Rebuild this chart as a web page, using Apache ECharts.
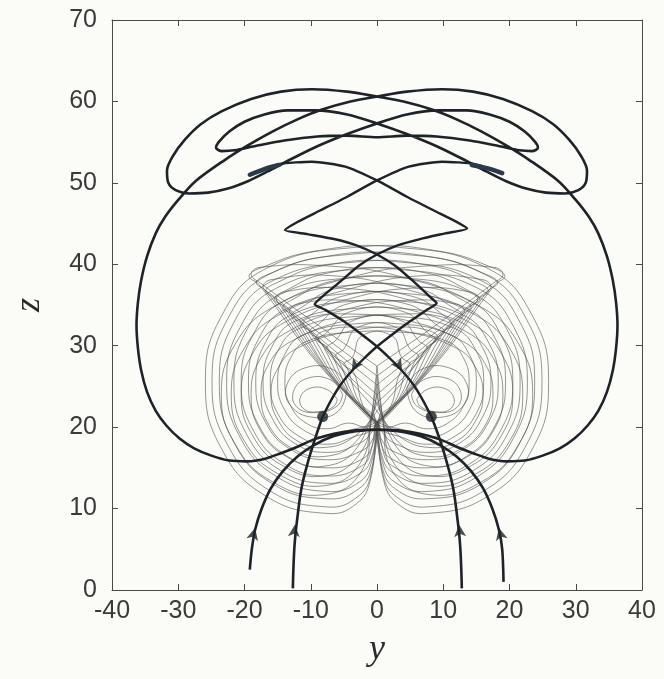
<!DOCTYPE html>
<html>
<head>
<meta charset="utf-8">
<script src="https://cdn.jsdelivr.net/npm/echarts@6/dist/echarts.min.js"></script>
<style>
  html, body { margin: 0; padding: 0; background: #fbfbf7; }
  #chart { width: 664px; height: 679px; }
</style>
</head>
<body>
<div id="chart"></div>
<script>
// Axis ticks
const yTicks = [-40, -30, -20, -10, 0, 10, 20, 30, 40];
const zTicks = [0, 10, 20, 30, 40, 50, 60, 70];

// Equilibria (filled dots)
const equilibria = [[-8.2, 21.3], [8.2, 21.3]];

// Long heavy trajectory: rises from the lower left, sweeps the big outer loop,
// winds through the upper lobes and returns down to the lower right
const heavyOrbit = [
  [-19.2, 2.5], [-18.9, 5.0], [-18.4, 7.4], [-17.4, 10.0], [-16.0, 12.5], [-14.2, 14.6],
  [-12.0, 16.4], [-9.5, 17.8], [-6.5, 18.9], [-3.2, 19.5], [0.0, 19.7], [3.2, 19.6],
  [6.5, 19.2], [9.5, 18.5], [12.0, 17.6], [14.5, 16.8], [17.0, 16.1], [19.6, 15.8],
  [22.3, 15.9], [25.0, 16.5], [27.6, 17.4], [29.8, 18.6], [31.8, 20.2], [33.4, 22.0],
  [34.7, 24.3], [35.6, 27.0], [36.1, 29.8], [36.3, 32.5], [36.1, 35.2], [35.6, 38.0],
  [34.7, 41.0], [33.4, 43.8], [32.0, 45.8], [30.0, 47.9], [27.4, 50.2], [23.0, 52.8],
  [19.5, 54.6], [15.8, 56.3], [12.0, 57.8], [8.3, 59.0], [4.0, 60.0], [0.0, 60.6],
  [-4.5, 61.2], [-9.8, 61.5], [-14.5, 61.2], [-19.0, 60.3], [-23.4, 58.8], [-26.6, 57.2],
  [-29.0, 55.3], [-30.8, 53.3], [-31.7, 51.5], [-31.5, 50.0], [-30.4, 49.1], [-28.4, 48.7],
  [-25.5, 48.8], [-22.5, 49.3], [-19.5, 50.2], [-16.5, 51.4], [-13.0, 52.9], [-9.0, 54.5],
  [-4.5, 56.0], [0.0, 57.3], [4.5, 58.4], [9.3, 58.9], [13.5, 58.9], [17.0, 58.4],
  [20.0, 57.5], [22.3, 56.3], [23.9, 55.0], [24.3, 54.3], [23.4, 53.9], [21.5, 54.0],
  [18.5, 54.5], [14.0, 55.2], [9.0, 55.7], [4.5, 55.8], [0.0, 55.6], [-4.5, 55.8],
  [-9.0, 55.7], [-14.0, 55.2], [-18.5, 54.5], [-21.5, 54.0], [-23.4, 53.9], [-24.3, 54.3],
  [-23.9, 55.0], [-22.3, 56.3], [-20.0, 57.5], [-17.0, 58.4], [-13.5, 58.9], [-9.3, 58.9],
  [-4.5, 58.4], [0.0, 57.3], [4.5, 56.0], [9.0, 54.5], [13.0, 52.9], [16.5, 51.4],
  [19.5, 50.2], [22.5, 49.3], [25.5, 48.8], [28.4, 48.7], [30.4, 49.1], [31.5, 50.0],
  [31.7, 51.5], [30.8, 53.3], [29.0, 55.3], [26.6, 57.2], [23.4, 58.8], [19.0, 60.3],
  [14.5, 61.2], [9.8, 61.5], [4.5, 61.2], [0.0, 60.6], [-4.0, 60.0], [-8.3, 59.0],
  [-12.0, 57.8], [-15.8, 56.3], [-19.5, 54.6], [-23.0, 52.8], [-27.4, 50.2], [-30.0, 47.9],
  [-32.0, 45.8], [-33.4, 43.8], [-34.7, 41.0], [-35.6, 38.0], [-36.1, 35.2], [-36.3, 32.5],
  [-36.1, 29.8], [-35.6, 27.0], [-34.7, 24.3], [-33.4, 22.0], [-31.8, 20.2], [-29.8, 18.6],
  [-27.6, 17.4], [-25.0, 16.5], [-22.3, 15.9], [-19.6, 15.8], [-17.0, 16.1], [-14.5, 16.8],
  [-12.0, 17.6], [-9.5, 18.5], [-6.5, 19.2], [-3.2, 19.6], [0.0, 19.7], [3.2, 19.5],
  [6.5, 18.9], [9.5, 17.8], [12.0, 16.4], [14.2, 14.6], [16.0, 12.5], [17.4, 10.0],
  [18.4, 7.4], [18.9, 5.0], [19.1, 1.0]
];

// Zig-zag branches joining each equilibrium to the opposite upper segment
const zigzagLeft = [
  [-8.2, 21.3], [-7.0, 23.2], [-5.5, 25.2], [-3.8, 26.9], [-2.0, 28.4], [0.0, 29.9],
  [2.5, 31.5], [5.0, 33.0], [7.5, 34.4], [9.0, 35.2], [8.0, 36.0], [5.5, 37.9],
  [2.8, 39.8], [0.0, 41.2], [-3.0, 42.3], [-6.5, 43.1], [-10.5, 43.7], [-13.9, 44.2],
  [-12.0, 45.2], [-8.6, 46.6], [-4.5, 48.3], [0.0, 50.3], [4.8, 52.0], [9.8, 52.6],
  [14.8, 52.3], [19.0, 51.1]
];
const zigzagRight = [
  [8.2, 21.3], [7.0, 23.2], [5.5, 25.2], [3.8, 26.9], [2.0, 28.4], [0.0, 29.9],
  [-2.5, 31.5], [-5.0, 33.0], [-7.8, 34.4], [-9.4, 35.1], [-8.3, 36.0], [-5.5, 37.9],
  [-2.8, 39.8], [0.0, 41.2], [3.0, 42.3], [6.5, 43.1], [10.3, 43.8], [13.6, 44.4],
  [11.8, 45.3], [8.6, 46.6], [4.5, 48.3], [0.0, 50.3], [-4.8, 52.0], [-9.8, 52.6],
  [-14.8, 52.3], [-19.2, 51.0]
];

// Short overlapping stretches where two heavy branches run together
const overlapLeft = [[-19.2, 51.0], [-17.0, 51.7], [-14.8, 52.2]];
const overlapRight = [[14.3, 52.2], [16.6, 51.8], [18.9, 51.2]];

// Incoming branches from the bottom edge into each equilibrium
const stemLeft = [
  [-12.7, 0.2], [-12.6, 3.0], [-12.4, 6.0], [-12.0, 9.0], [-11.4, 12.5],
  [-10.5, 15.5], [-9.5, 18.2], [-8.2, 21.3]
];
const stemRight = [
  [12.8, 0.2], [12.7, 3.0], [12.5, 6.0], [12.1, 9.0], [11.5, 12.5],
  [10.6, 15.5], [9.6, 18.2], [8.2, 21.3]
];

// Direction markers: position and heading (degrees, counter-clockwise from up)
const arrowPoints = [[-18.4, 7.6], [-12.4, 8.0], [12.4, 8.0], [18.4, 7.6], [-3.8, 26.9], [3.8, 26.9]];
const arrowHeadings = [-14, -5, 5, 14, 148, -148];

// Thin transient loops round the left equilibrium that dip to the cusp below it
const thinLeft = [
  [[-6.0,23.4],[-7.5,24.6],[-10.0,24.8],[-11.6,23.6],[-11.0,22.2],[-8.8,21.9],[-6.6,22.5],[-6.0,23.4]],
  [[-5.2,24.0],[-7.0,25.8],[-10.5,26.0],[-12.6,24.4],[-12.0,22.4],[-9.0,21.8],[-6.0,22.6],[-5.2,24.0]],
  [[-4.5,24.8],[-6.5,27.0],[-10.8,27.3],[-13.6,25.2],[-13.0,22.6],[-9.5,21.2],[-5.8,22.0],[-4.5,24.8]],
  [[0.0,20.3],[2.1,22.6],[3.5,26.7],[5.0,27.7],[3.7,28.6],[2.3,31.2],[-3.0,31.7],[-10.7,30.5],[-13.1,28.4],[-13.9,25.5],[-13.1,22.7],[-10.7,20.5],[-7.5,19.8],[-4.3,20.5],[-1.8,20.0],[0.0,20.3]],
  [[0.2,20.8],[2.7,23.1],[4.8,27.7],[6.3,28.7],[5.0,29.6],[3.0,32.2],[-3.0,32.7],[-11.2,31.3],[-14.0,28.8],[-15.0,25.5],[-14.0,22.2],[-11.2,19.7],[-7.5,18.8],[-3.8,19.7],[-1.2,20.2],[0.2,20.8]],
  [[-0.2,20.3],[3.3,23.5],[6.1,28.7],[7.6,29.7],[6.3,30.6],[3.6,33.1],[-3.0,33.6],[-11.8,32.1],[-15.0,29.3],[-16.1,25.5],[-15.0,21.7],[-11.8,18.9],[-7.5,17.9],[-3.2,18.9],[-1.0,19.5],[-0.2,20.3]],
  [[0.3,21.2],[3.9,24.0],[7.4,29.7],[8.9,30.7],[7.6,31.6],[4.3,34.1],[-3.0,34.6],[-12.4,33.0],[-15.9,29.8],[-17.2,25.5],[-15.9,21.2],[-12.4,18.0],[-7.5,16.9],[-2.7,18.0],[-0.8,19.4],[0.3,21.2]],
  [[-0.3,20.0],[4.5,24.4],[8.7,30.7],[10.2,31.7],[8.9,32.6],[5.0,35.0],[-3.0,35.5],[-12.9,33.8],[-16.9,30.3],[-18.3,25.5],[-16.9,20.7],[-12.9,17.2],[-7.5,16.0],[-2.3,17.1],[-0.6,18.6],[-0.3,20.0]],
  [[0.1,20.6],[5.1,24.9],[10.1,31.7],[11.6,32.7],[10.3,33.6],[5.6,36.0],[-3.0,36.5],[-13.5,34.6],[-17.9,30.8],[-19.4,25.5],[-17.9,20.3],[-13.5,16.4],[-7.5,15.0],[-2.0,16.2],[-0.5,18.3],[0.1,20.6]],
  [[-0.4,20.3],[5.7,25.3],[11.4,32.7],[12.9,33.7],[11.6,34.6],[6.3,37.0],[-3.0,37.5],[-14.0,35.5],[-18.8,31.2],[-20.5,25.5],[-18.8,19.8],[-14.0,15.5],[-7.5,14.0],[-2.2,15.3],[-0.8,17.4],[-0.4,20.3]],
  [[0.4,21.5],[6.3,25.8],[12.7,33.7],[14.2,34.7],[12.9,35.6],[6.9,37.9],[-3.0,38.4],[-14.6,36.3],[-19.8,31.7],[-21.6,25.5],[-19.8,19.3],[-14.6,14.7],[-7.5,13.1],[-2.4,14.4],[-0.7,16.6],[0.4,21.5]],
  [[-0.1,20.0],[6.8,26.2],[14.0,34.7],[15.5,35.7],[14.2,36.6],[7.6,38.9],[-3.0,39.4],[-15.1,37.1],[-20.7,32.2],[-22.7,25.5],[-20.7,18.8],[-15.1,13.9],[-7.5,12.1],[-2.6,13.3],[-0.8,15.8],[-0.1,20.0]],
  [[0.2,20.9],[7.4,26.7],[15.3,35.7],[16.8,36.7],[15.5,37.6],[8.3,39.8],[-3.0,40.3],[-15.7,38.0],[-21.7,32.7],[-23.8,25.5],[-21.7,18.3],[-15.7,13.0],[-7.5,11.2],[-2.8,12.4],[-0.8,15.0],[0.2,20.9]],
  [[-0.3,20.3],[8.0,27.1],[16.7,36.7],[18.2,37.7],[16.9,38.6],[8.9,40.8],[-3.0,41.3],[-16.2,38.8],[-22.6,33.2],[-24.9,25.5],[-22.6,17.9],[-16.2,12.2],[-7.5,10.2],[-3.0,11.4],[-0.9,14.2],[-0.3,20.3]],
  [[0.0,20.6],[8.6,27.5],[17.8,37.5],[19.3,38.5],[18.0,39.4],[9.5,41.6],[-3.0,42.1],[-16.7,39.5],[-23.5,33.6],[-25.9,25.5],[-23.5,17.4],[-16.7,11.5],[-7.5,9.4],[-3.1,10.6],[-1.0,13.5],[0.0,20.6]]
];

// Thin loops round the left equilibrium that cut across the middle higher up
const hatchLeft = [
  [[0.0,22.0],[4.3,26.0],[7.8,29.9],[9.2,30.9],[8.0,31.8],[3.6,32.3],[-4.0,31.8],[-12.0,29.7],[-14.9,27.3],[-16.0,24.0],[-14.9,20.8],[-12.0,18.3],[-8.0,17.5],[-3.5,18.8],[0.0,22.0]],
  [[0.0,23.0],[5.3,27.2],[9.8,31.6],[11.2,32.6],[10.0,33.5],[4.4,33.9],[-4.0,33.2],[-12.8,30.6],[-16.3,27.8],[-17.5,24.0],[-16.3,20.2],[-12.8,17.4],[-8.0,16.4],[-3.2,18.2],[0.0,23.0]],
  [[0.0,24.0],[6.3,28.6],[11.8,33.2],[13.2,34.2],[12.0,35.1],[5.2,35.6],[-4.0,34.6],[-13.5,31.7],[-17.6,28.4],[-19.0,24.0],[-17.6,19.6],[-13.5,16.3],[-8.0,15.2],[-3.0,17.5],[0.0,24.0]],
  [[0.0,25.2],[7.3,30.0],[13.8,34.7],[15.2,35.7],[14.0,36.6],[6.0,37.1],[-4.0,35.8],[-14.3,32.7],[-18.8,29.0],[-20.5,24.0],[-18.8,19.0],[-14.3,15.3],[-8.0,14.0],[-2.8,16.5],[-0.6,21.5],[0.0,25.2]],
  [[0.0,26.3],[8.3,31.3],[15.8,36.2],[17.2,37.2],[16.0,38.1],[6.8,38.6],[-4.0,37.0],[-15.0,33.7],[-20.1,29.6],[-22.0,24.0],[-20.1,18.4],[-15.0,14.3],[-8.0,12.8],[-2.6,15.5],[-0.8,21.5],[0.0,26.3]],
  [[0.0,27.5],[9.2,32.7],[17.6,37.7],[19.0,38.7],[17.8,39.6],[7.6,39.8],[-4.0,38.4],[-15.8,34.7],[-21.4,30.2],[-23.5,24.0],[-21.4,17.9],[-15.8,13.3],[-8.0,11.7],[-2.4,14.5],[-0.9,21.0],[0.0,27.5]]
];

// Thin transient loops round the right equilibrium that dip to the cusp below it
const thinRight = [
  [[6.0,23.4],[7.5,24.6],[10.0,24.8],[11.6,23.6],[11.0,22.2],[8.8,21.9],[6.6,22.5],[6.0,23.4]],
  [[5.2,24.0],[7.0,25.8],[10.5,26.0],[12.6,24.4],[12.0,22.4],[9.0,21.8],[6.0,22.6],[5.2,24.0]],
  [[4.5,24.8],[6.5,27.0],[10.8,27.3],[13.6,25.2],[13.0,22.6],[9.5,21.2],[5.8,22.0],[4.5,24.8]],
  [[0.0,20.3],[-2.1,22.6],[-3.5,26.7],[-5.0,27.7],[-3.7,28.6],[-2.3,31.2],[3.0,31.7],[10.7,30.5],[13.1,28.4],[13.9,25.5],[13.1,22.7],[10.7,20.5],[7.5,19.8],[4.3,20.5],[1.8,20.0],[0.0,20.3]],
  [[-0.2,20.8],[-2.7,23.1],[-4.8,27.7],[-6.3,28.7],[-5.0,29.6],[-3.0,32.2],[3.0,32.7],[11.2,31.3],[14.0,28.8],[15.0,25.5],[14.0,22.2],[11.2,19.7],[7.5,18.8],[3.8,19.7],[1.2,20.2],[-0.2,20.8]],
  [[0.2,20.3],[-3.3,23.5],[-6.1,28.7],[-7.6,29.7],[-6.3,30.6],[-3.6,33.1],[3.0,33.6],[11.8,32.1],[15.0,29.3],[16.1,25.5],[15.0,21.7],[11.8,18.9],[7.5,17.9],[3.2,18.9],[1.0,19.5],[0.2,20.3]],
  [[-0.3,21.2],[-3.9,24.0],[-7.4,29.7],[-8.9,30.7],[-7.6,31.6],[-4.3,34.1],[3.0,34.6],[12.4,33.0],[15.9,29.8],[17.2,25.5],[15.9,21.2],[12.4,18.0],[7.5,16.9],[2.7,18.0],[0.8,19.4],[-0.3,21.2]],
  [[0.3,20.0],[-4.5,24.4],[-8.7,30.7],[-10.2,31.7],[-8.9,32.6],[-5.0,35.0],[3.0,35.5],[12.9,33.8],[16.9,30.3],[18.3,25.5],[16.9,20.7],[12.9,17.2],[7.5,16.0],[2.3,17.1],[0.6,18.6],[0.3,20.0]],
  [[-0.1,20.6],[-5.1,24.9],[-10.1,31.7],[-11.6,32.7],[-10.3,33.6],[-5.6,36.0],[3.0,36.5],[13.5,34.6],[17.9,30.8],[19.4,25.5],[17.9,20.3],[13.5,16.4],[7.5,15.0],[2.0,16.2],[0.5,18.3],[-0.1,20.6]],
  [[0.4,20.3],[-5.7,25.3],[-11.4,32.7],[-12.9,33.7],[-11.6,34.6],[-6.3,37.0],[3.0,37.5],[14.0,35.5],[18.8,31.2],[20.5,25.5],[18.8,19.8],[14.0,15.5],[7.5,14.0],[2.2,15.3],[0.8,17.4],[0.4,20.3]],
  [[-0.4,21.5],[-6.3,25.8],[-12.7,33.7],[-14.2,34.7],[-12.9,35.6],[-6.9,37.9],[3.0,38.4],[14.6,36.3],[19.8,31.7],[21.6,25.5],[19.8,19.3],[14.6,14.7],[7.5,13.1],[2.4,14.4],[0.7,16.6],[-0.4,21.5]],
  [[0.1,20.0],[-6.8,26.2],[-14.0,34.7],[-15.5,35.7],[-14.2,36.6],[-7.6,38.9],[3.0,39.4],[15.1,37.1],[20.7,32.2],[22.7,25.5],[20.7,18.8],[15.1,13.9],[7.5,12.1],[2.6,13.3],[0.8,15.8],[0.1,20.0]],
  [[-0.2,20.9],[-7.4,26.7],[-15.3,35.7],[-16.8,36.7],[-15.5,37.6],[-8.3,39.8],[3.0,40.3],[15.7,38.0],[21.7,32.7],[23.8,25.5],[21.7,18.3],[15.7,13.0],[7.5,11.2],[2.8,12.4],[0.8,15.0],[-0.2,20.9]],
  [[0.3,20.3],[-8.0,27.1],[-16.7,36.7],[-18.2,37.7],[-16.9,38.6],[-8.9,40.8],[3.0,41.3],[16.2,38.8],[22.6,33.2],[24.9,25.5],[22.6,17.9],[16.2,12.2],[7.5,10.2],[3.0,11.4],[0.9,14.2],[0.3,20.3]],
  [[0.0,20.6],[-8.6,27.5],[-17.8,37.5],[-19.3,38.5],[-18.0,39.4],[-9.5,41.6],[3.0,42.1],[16.7,39.5],[23.5,33.6],[25.9,25.5],[23.5,17.4],[16.7,11.5],[7.5,9.4],[3.1,10.6],[1.0,13.5],[0.0,20.6]]
];

// Thin loops round the right equilibrium that cut across the middle higher up
const hatchRight = [
  [[0.0,22.0],[-4.3,26.0],[-7.8,29.9],[-9.2,30.9],[-8.0,31.8],[-3.6,32.3],[4.0,31.8],[12.0,29.7],[14.9,27.3],[16.0,24.0],[14.9,20.8],[12.0,18.3],[8.0,17.5],[3.5,18.8],[0.0,22.0]],
  [[0.0,23.0],[-5.3,27.2],[-9.8,31.6],[-11.2,32.6],[-10.0,33.5],[-4.4,33.9],[4.0,33.2],[12.8,30.6],[16.3,27.8],[17.5,24.0],[16.3,20.2],[12.8,17.4],[8.0,16.4],[3.2,18.2],[0.0,23.0]],
  [[0.0,24.0],[-6.3,28.6],[-11.8,33.2],[-13.2,34.2],[-12.0,35.1],[-5.2,35.6],[4.0,34.6],[13.5,31.7],[17.6,28.4],[19.0,24.0],[17.6,19.6],[13.5,16.3],[8.0,15.2],[3.0,17.5],[0.0,24.0]],
  [[0.0,25.2],[-7.3,30.0],[-13.8,34.7],[-15.2,35.7],[-14.0,36.6],[-6.0,37.1],[4.0,35.8],[14.3,32.7],[18.8,29.0],[20.5,24.0],[18.8,19.0],[14.3,15.3],[8.0,14.0],[2.8,16.5],[0.6,21.5],[0.0,25.2]],
  [[0.0,26.3],[-8.3,31.3],[-15.8,36.2],[-17.2,37.2],[-16.0,38.1],[-6.8,38.6],[4.0,37.0],[15.0,33.7],[20.1,29.6],[22.0,24.0],[20.1,18.4],[15.0,14.3],[8.0,12.8],[2.6,15.5],[0.8,21.5],[0.0,26.3]],
  [[0.0,27.5],[-9.2,32.7],[-17.6,37.7],[-19.0,38.7],[-17.8,39.6],[-7.6,39.8],[4.0,38.4],[15.8,34.7],[21.4,30.2],[23.5,24.0],[21.4,17.9],[15.8,13.3],[8.0,11.7],[2.4,14.5],[0.9,21.0],[0.0,27.5]]
];

const INK = '#1d2327';
const THIN = '#4d4d4d';
const thinLoops = thinLeft.concat(hatchLeft, thinRight, hatchRight);

const series = [];
// thin loops: each item is one loop, projected point by point through the cartesian axes
series.push({
  type: 'custom', coordinateSystem: 'cartesian2d', silent: true, z: 1,
  data: thinLoops.map(function (loop, i) { return [loop[0][0], loop[0][1], i]; }),
  encode: { x: 0, y: 1 },
  renderItem: function (params, api) {
    const loop = thinLoops[params.dataIndex];
    return {
      type: 'polyline',
      shape: { points: loop.map(function (p) { return api.coord(p); }), smooth: 0.45 },
      style: { stroke: THIN, lineWidth: 0.7, fill: null, opacity: 0.85 }
    };
  }
});
series.push({ type: 'line', data: heavyOrbit, smooth: 0.3, symbol: 'none', z: 3,
  lineStyle: { color: INK, width: 2.6, join: 'round' } });
[zigzagLeft, zigzagRight].forEach(function (d) {
  series.push({ type: 'line', data: d, smooth: 0.2, symbol: 'none', z: 3,
    lineStyle: { color: INK, width: 2.4, join: 'round' } });
});
[overlapLeft, overlapRight].forEach(function (d) {
  series.push({ type: 'line', data: d, smooth: 0.3, symbol: 'none', z: 4,
    lineStyle: { color: '#2a3a4a', width: 4.5, cap: 'round' } });
});
[stemLeft, stemRight].forEach(function (d) {
  series.push({ type: 'line', data: d, smooth: 0.4, symbol: 'none', z: 3,
    lineStyle: { color: INK, width: 2.6 } });
});
series.push({
  type: 'scatter', z: 5, symbol: 'arrow', symbolSize: [9, 12],
  itemStyle: { color: INK },
  data: arrowPoints.map(function (p, i) { return { value: p, symbolRotate: arrowHeadings[i] }; })
});
series.push({
  type: 'scatter', z: 6, symbol: 'circle', symbolSize: 11,
  itemStyle: { color: INK }, data: equilibria
});

const labelStyle = { fontFamily: 'Liberation Sans', fontSize: 25, color: '#3a3a3a' };
const lineStyleAxis = { color: '#4a4a4a', width: 1 };

const chart = echarts.init(document.getElementById('chart'), null, { renderer: 'canvas' });
chart.setOption({
  animation: false,
  backgroundColor: '#fbfbf7',
  grid: { left: 112, right: 22, top: 20, bottom: 89 },
  xAxis: [
    {
      type: 'value', min: yTicks[0], max: yTicks[yTicks.length - 1], interval: 10,
      name: 'y', nameLocation: 'middle', nameGap: 42,
      nameTextStyle: { fontFamily: 'Liberation Serif', fontStyle: 'italic', fontSize: 36, color: '#2a2a2a' },
      axisLine: { show: true, onZero: false, lineStyle: lineStyleAxis },
      axisTick: { show: true, inside: true, length: 6, lineStyle: lineStyleAxis },
      axisLabel: Object.assign({ margin: 9 }, labelStyle),
      splitLine: { show: false }
    },
    {
      type: 'value', position: 'top', min: yTicks[0], max: yTicks[yTicks.length - 1], interval: 10,
      axisLine: { show: true, onZero: false, lineStyle: lineStyleAxis },
      axisTick: { show: true, inside: true, length: 6, lineStyle: lineStyleAxis },
      axisLabel: { show: false }, splitLine: { show: false }
    }
  ],
  yAxis: [
    {
      type: 'value', min: zTicks[0], max: zTicks[zTicks.length - 1], interval: 10,
      name: 'z', nameLocation: 'middle', nameGap: 64, nameRotate: 90,
      nameTextStyle: { fontFamily: 'Liberation Serif', fontStyle: 'italic', fontSize: 36, color: '#2a2a2a' },
      axisLine: { show: true, onZero: false, lineStyle: lineStyleAxis },
      axisTick: { show: true, inside: true, length: 6, lineStyle: lineStyleAxis },
      axisLabel: Object.assign({ margin: 15 }, labelStyle),
      splitLine: { show: false }
    },
    {
      type: 'value', position: 'right', min: zTicks[0], max: zTicks[zTicks.length - 1], interval: 10,
      axisLine: { show: true, onZero: false, lineStyle: lineStyleAxis },
      axisTick: { show: true, inside: true, length: 6, lineStyle: lineStyleAxis },
      axisLabel: { show: false }, splitLine: { show: false }
    }
  ],
  series: series
});
</script>
</body>
</html>
